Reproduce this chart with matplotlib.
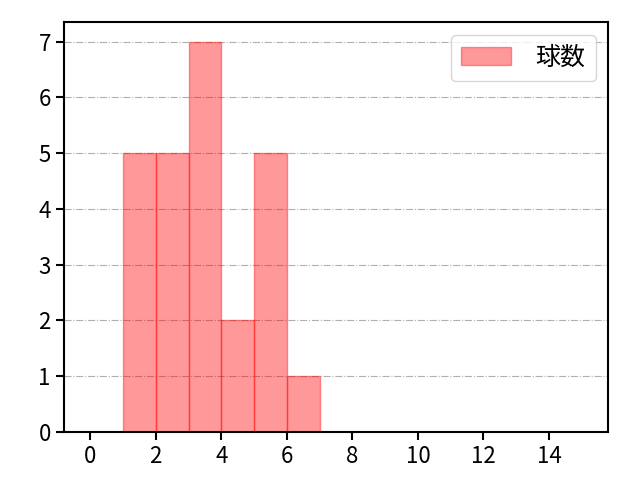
import matplotlib
matplotlib.use('Agg')
import matplotlib.pyplot as plt

plt.rcParams['font.family'] = ['Noto Sans CJK JP', 'DejaVu Sans']

# histogram bins and counts
bin_edges = [1, 2, 3, 4, 5, 6, 7]
counts = [5, 5, 7, 2, 5, 1]
label = '球数'

fig, ax = plt.subplots(figsize=(6.4, 4.8), dpi=100)
fig.subplots_adjust(left=0.1, right=0.95, top=0.954, bottom=0.1)
ax.hist(bin_edges[:-1], bins=bin_edges, weights=counts,
        color='red', alpha=0.4, edgecolor='red', label=label)
ax.set_xlim(-0.8, 15.8)
ax.set_xticks(range(0, 15, 2))
ax.grid(True, axis='y', linestyle='-.', color='#b0b0b0')
ax.set_axisbelow(True)
for sp in ax.spines.values():
    sp.set_linewidth(1.5)
ax.tick_params(labelsize=16, width=1.5, length=6)
ax.legend(loc='upper right', fontsize=18, borderpad=0.4,
          handletextpad=1.0, borderaxespad=0.5)
fig.savefig('out.png')
plt.close('all')
